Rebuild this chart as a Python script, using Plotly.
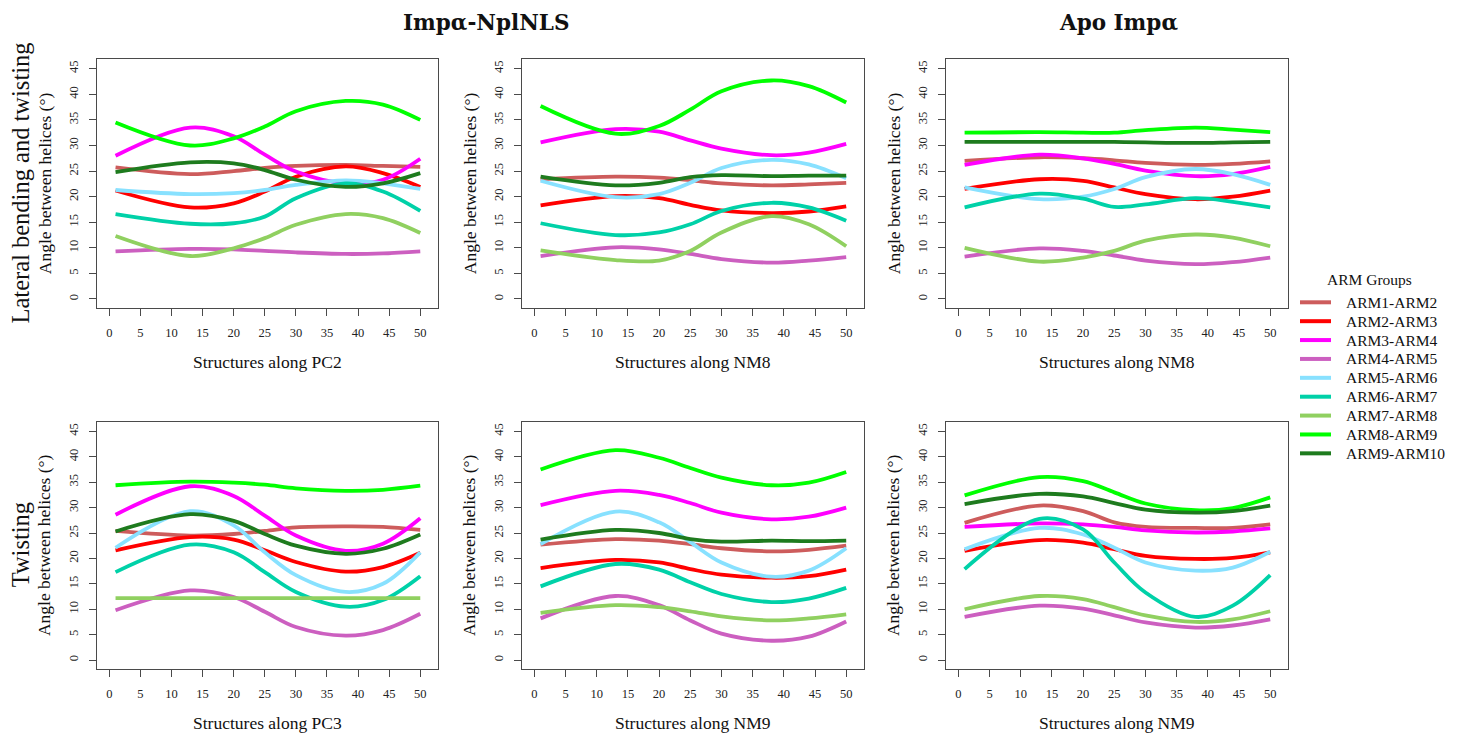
import plotly.graph_objects as go

# Structure index along each normal-mode / principal-component trajectory
X = [1, 13, 20, 25, 30, 38, 44, 50]

GROUPS = ["ARM1-ARM2", "ARM2-ARM3", "ARM3-ARM4", "ARM4-ARM5", "ARM5-ARM6",
          "ARM6-ARM7", "ARM7-ARM8", "ARM8-ARM9", "ARM9-ARM10"]
COLORS = ["#CD5C5C", "#FF0000", "#FF00FF", "#CC5FC0", "#88E1FF",
          "#00D1A8", "#90D060", "#00FF00", "#1E7B1E"]

# Angle between helices (degrees), one row per ARM group
NPL_PC2 = [
    [25.7, 24.4, 25.0, 25.6, 26.0, 26.2, 26.0, 25.8],
    [21.2, 17.9, 18.7, 21.0, 23.9, 25.9, 24.6, 21.9],
    [28.0, 33.5, 31.8, 28.2, 24.9, 22.6, 23.3, 27.4],
    [9.3, 9.8, 9.7, 9.4, 9.1, 8.8, 8.9, 9.3],
    [21.3, 20.5, 20.7, 21.3, 22.3, 23.2, 22.6, 21.5],
    [16.6, 14.7, 14.8, 16.1, 19.7, 22.6, 21.0, 17.2],
    [12.3, 8.4, 9.9, 11.9, 14.5, 16.6, 15.8, 12.9],
    [34.5, 30.0, 31.4, 33.7, 36.7, 38.7, 38.0, 35.0],
    [24.8, 26.7, 26.5, 25.2, 23.3, 21.9, 22.6, 24.6],
]
NPL_NM8 = [
    [23.4, 23.9, 23.7, 23.2, 22.6, 22.2, 22.4, 22.7],
    [18.3, 20.1, 19.7, 18.4, 17.3, 16.8, 17.1, 18.1],
    [30.6, 33.2, 32.7, 31.0, 29.4, 28.1, 28.6, 30.3],
    [8.4, 10.1, 9.7, 8.8, 7.8, 7.1, 7.5, 8.2],
    [23.1, 19.9, 20.5, 22.7, 25.6, 27.2, 26.3, 23.6],
    [14.8, 12.5, 13.0, 14.6, 17.2, 18.8, 17.9, 15.3],
    [9.5, 7.6, 7.5, 9.4, 13.0, 16.2, 14.6, 10.3],
    [37.7, 32.3, 33.8, 37.0, 40.6, 42.7, 41.6, 38.4],
    [23.9, 22.2, 22.7, 23.8, 24.2, 24.0, 24.1, 24.1],
]
APO_NM8 = [
    [27.0, 27.7, 27.5, 27.1, 26.6, 26.2, 26.4, 26.9],
    [21.5, 23.4, 23.1, 21.8, 20.5, 19.5, 20.0, 21.2],
    [26.2, 28.2, 27.5, 26.4, 25.1, 24.0, 24.4, 25.8],
    [8.3, 9.9, 9.4, 8.5, 7.5, 6.8, 7.2, 8.1],
    [21.8, 19.5, 20.0, 21.5, 23.8, 25.4, 24.4, 22.3],
    [17.9, 20.6, 19.6, 18.0, 18.5, 19.7, 19.0, 17.9],
    [10.0, 7.3, 8.1, 9.4, 11.4, 12.6, 12.0, 10.3],
    [32.5, 32.6, 32.5, 32.5, 33.0, 33.5, 33.1, 32.6],
    [30.7, 30.7, 30.7, 30.7, 30.6, 30.5, 30.6, 30.7],
]
NPL_PC3 = [
    [25.4, 24.5, 24.8, 25.4, 26.1, 26.3, 26.2, 25.6],
    [21.6, 24.2, 23.7, 21.6, 19.3, 17.4, 18.3, 21.1],
    [28.6, 34.2, 32.3, 28.4, 24.5, 21.5, 22.9, 27.9],
    [9.8, 13.7, 12.4, 9.5, 6.5, 4.8, 5.9, 9.1],
    [22.1, 29.3, 26.5, 21.2, 16.7, 13.4, 15.0, 21.2],
    [17.3, 22.7, 21.2, 17.3, 13.4, 10.5, 11.8, 16.5],
    [12.2, 12.2, 12.2, 12.2, 12.2, 12.2, 12.2, 12.2],
    [34.4, 35.1, 34.9, 34.5, 33.8, 33.3, 33.5, 34.3],
    [25.3, 28.7, 27.4, 24.8, 22.5, 20.9, 21.9, 24.7],
]
NPL_NM9 = [
    [22.7, 23.8, 23.5, 22.8, 22.0, 21.4, 21.7, 22.5],
    [18.1, 19.7, 19.2, 17.9, 16.8, 16.2, 16.5, 17.8],
    [30.5, 33.3, 32.5, 30.9, 29.0, 27.7, 28.2, 30.0],
    [8.2, 12.6, 10.8, 7.8, 5.2, 3.8, 4.6, 7.6],
    [22.8, 29.2, 27.1, 23.2, 19.2, 16.4, 17.6, 22.0],
    [14.5, 18.9, 17.8, 15.3, 13.0, 11.4, 12.1, 14.2],
    [9.3, 10.8, 10.4, 9.6, 8.6, 7.8, 8.2, 9.0],
    [37.5, 41.3, 39.8, 37.8, 35.9, 34.4, 34.9, 37.0],
    [23.7, 25.6, 25.0, 23.8, 23.3, 23.5, 23.4, 23.5],
]
APO_NM9 = [
    [27.0, 30.4, 29.3, 27.1, 26.2, 26.0, 26.0, 26.7],
    [21.5, 23.6, 23.1, 21.8, 20.5, 19.9, 20.1, 21.2],
    [26.2, 26.9, 26.7, 26.2, 25.5, 25.1, 25.3, 25.9],
    [8.5, 10.7, 10.1, 8.8, 7.4, 6.4, 6.8, 8.0],
    [21.8, 26.0, 24.7, 22.1, 19.2, 17.6, 18.2, 21.3],
    [17.9, 27.8, 25.7, 19.2, 13.3, 8.5, 10.7, 16.7],
    [10.0, 12.6, 12.0, 10.4, 8.8, 7.5, 8.0, 9.6],
    [32.4, 36.0, 35.2, 33.0, 30.8, 29.5, 29.9, 32.0],
    [30.7, 32.7, 32.2, 30.9, 29.6, 29.0, 29.3, 30.4],
]

PANELS = [
    (NPL_PC2, "Structures along PC2"),
    (NPL_NM8, "Structures along NM8"),
    (APO_NM8, "Structures along NM8"),
    (NPL_PC3, "Structures along PC3"),
    (NPL_NM9, "Structures along NM9"),
    (APO_NM9, "Structures along NM9"),
]

X_TICKS = list(range(0, 51, 5))
Y_TICKS = list(range(0, 46, 5))

W, H = 1460, 734
COL_PX = [(96.7, 438.3), (521.7, 864.3), (945.7, 1288.3)]
ROW_PX = [(59.0, 308.0), (421.7, 669.0)]

SERIF = "Liberation Serif, Times New Roman, serif"
AXIS_COLOR = "#4a4a4a"
TEXT_COLOR = "#111"


def px_x(v):
    return v / W


def px_y(v):
    return 1 - v / H


fig = go.Figure()
annotations = []
shapes = []

for idx, (values, xlabel) in enumerate(PANELS):
    r, c = divmod(idx, 3)
    n = idx + 1
    xa = "x" if n == 1 else f"x{n}"
    ya = "y" if n == 1 else f"y{n}"
    for g, (name, color) in enumerate(zip(GROUPS, COLORS)):
        fig.add_trace(go.Scatter(
            x=X, y=values[g], mode="lines", name=name,
            line=dict(color=color, width=3.8, shape="spline", smoothing=1.0),
            xaxis=xa, yaxis=ya, showlegend=False, hoverinfo="skip",
        ))

    x0, x1 = COL_PX[c]
    y0, y1 = ROW_PX[r]
    common = dict(
        showline=True, mirror=True, linecolor=AXIS_COLOR, linewidth=1.2,
        ticks="outside", ticklen=7, tickwidth=1, tickcolor=AXIS_COLOR,
        showgrid=False, zeroline=False,
        tickfont=dict(family=SERIF, size=12.5, color="#222"),
    )
    fig.layout[f"xaxis{'' if n == 1 else n}"] = dict(
        common, domain=[px_x(x0), px_x(x1)], anchor=ya,
        range=[-2.03, 52.9], tickmode="array", tickvals=X_TICKS,
        ticklabelstandoff=6,
    )
    fig.layout[f"yaxis{'' if n == 1 else n}"] = dict(
        common, domain=[px_y(y1), px_y(y0)], anchor=xa,
        range=[-1.76, 46.9], tickmode="array", tickvals=Y_TICKS,
        tickangle=-90, ticklabelstandoff=6,
    )
    # axis titles
    annotations.append(dict(
        text=xlabel, x=px_x((x0 + x1) / 2), y=px_y(y1 + 54),
        xref="paper", yref="paper", showarrow=False,
        xanchor="center", yanchor="middle",
        font=dict(family=SERIF, size=17.5, color=TEXT_COLOR),
    ))
    annotations.append(dict(
        text="Angle between helices (°)", x=px_x(x0 - 52), y=px_y((y0 + y1) / 2),
        xref="paper", yref="paper", showarrow=False, textangle=-90,
        xanchor="center", yanchor="middle",
        font=dict(family=SERIF, size=17.5, color=TEXT_COLOR),
    ))

# column headings
for label, cx in [("<b>Impα-NplNLS</b>", 486), ("<b>Apo Impα</b>", 1118)]:
    annotations.append(dict(
        text=label, x=px_x(cx), y=px_y(22), xref="paper", yref="paper",
        showarrow=False, xanchor="center", yanchor="middle",
        font=dict(family="DejaVu Serif, serif", size=21.5, color=TEXT_COLOR),
    ))
# row headings
for label, (y0, y1) in zip(["Lateral bending and twisting", "Twisting"], ROW_PX):
    annotations.append(dict(
        text=label, x=px_x(20), y=px_y((y0 + y1) / 2), xref="paper", yref="paper",
        showarrow=False, textangle=-90, xanchor="center", yanchor="middle",
        font=dict(family=SERIF, size=24.5, color=TEXT_COLOR),
    ))

# key for the ARM groups
LEG_TOP, LEG_STEP = 302.3, 18.88
annotations.append(dict(
    text="ARM Groups", x=px_x(1369), y=px_y(279), xref="paper", yref="paper",
    showarrow=False, xanchor="center", yanchor="middle",
    font=dict(family=SERIF, size=15.5, color=TEXT_COLOR),
))
for i, (name, color) in enumerate(zip(GROUPS, COLORS)):
    yy = LEG_TOP + i * LEG_STEP
    shapes.append(dict(
        type="line", xref="paper", yref="paper",
        x0=px_x(1300), x1=px_x(1331), y0=px_y(yy), y1=px_y(yy),
        line=dict(color=color, width=4),
    ))
    annotations.append(dict(
        text=name, x=px_x(1344), y=px_y(yy), xref="paper", yref="paper",
        showarrow=False, xanchor="left", yanchor="middle",
        font=dict(family=SERIF, size=15.5, color=TEXT_COLOR),
    ))

fig.update_layout(
    width=W, height=H, margin=dict(l=0, r=0, t=0, b=0),
    paper_bgcolor="white", plot_bgcolor="white",
    annotations=annotations, shapes=shapes, showlegend=False,
)

fig.write_html("out.html")
